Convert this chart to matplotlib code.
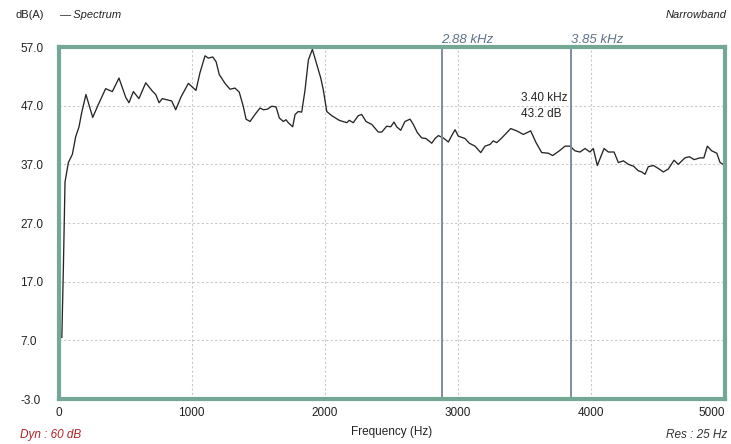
import matplotlib
matplotlib.use("Agg")
import matplotlib.pyplot as plt

plt.rcParams['font.family'] = ['Liberation Sans', 'DejaVu Sans']

# ---- data ----
freq_hz = [25, 36, 49, 74, 104, 129, 154, 174, 206, 257, 299, 354, 404, 454, 505, 529,
           562, 604, 655, 704, 730, 755, 779, 850, 880, 920, 975, 1032, 1062, 1100,
           1125, 1158, 1183, 1207, 1250, 1288, 1325, 1357, 1387, 1408, 1438, 1475,
           1513, 1538, 1568, 1601, 1633, 1658, 1688, 1708, 1725, 1758, 1776, 1800,
           1826, 1851, 1876, 1906, 1939, 1969, 1988, 2014, 2051, 2108, 2164, 2183,
           2213, 2251, 2276, 2309, 2352, 2401, 2427, 2464, 2494, 2519, 2539, 2569,
           2601, 2639, 2664, 2694, 2727, 2759, 2802, 2827, 2852, 2889, 2927, 2952,
           2977, 3002, 3052, 3084, 3127, 3170, 3202, 3240, 3264, 3290, 3328, 3395,
           3440, 3490, 3545, 3585, 3628, 3677, 3710, 3760, 3803, 3840, 3878, 3915,
           3953, 3990, 4015, 4045, 4096, 4128, 4171, 4203, 4241, 4278, 4316, 4353,
           4379, 4403, 4428, 4466, 4503, 4541, 4578, 4621, 4653, 4703, 4736, 4772,
           4815, 4845, 4871, 4904, 4942, 4967, 4990]
level_db = [7.5, 18.7, 34.0, 37.3, 38.7, 41.7, 43.4, 45.8, 48.9, 45.0, 47.2, 49.9, 49.4,
            51.7, 48.4, 47.5, 49.4, 48.2, 50.9, 49.5, 48.9, 47.5, 48.2, 47.8, 46.3,
            48.5, 50.8, 49.6, 52.6, 55.5, 55.1, 55.3, 54.5, 52.3, 50.8, 49.8, 50.0,
            49.3, 46.9, 44.7, 44.3, 45.5, 46.6, 46.3, 46.4, 46.9, 46.8, 44.9, 44.3,
            44.6, 44.1, 43.4, 45.5, 46.0, 45.9, 49.7, 54.8, 56.6, 54.0, 51.7, 49.7,
            46.0, 45.3, 44.5, 44.1, 44.5, 44.1, 45.3, 45.5, 44.3, 43.8, 42.5, 42.5,
            43.5, 43.4, 44.2, 43.4, 42.8, 44.3, 44.7, 43.8, 42.4, 41.5, 41.4, 40.6,
            41.4, 41.9, 41.5, 40.8, 41.9, 42.9, 41.8, 41.4, 40.6, 40.1, 39.0, 40.1,
            40.4, 41.0, 40.7, 41.5, 43.1, 42.7, 42.1, 42.7, 40.7, 39.0, 38.9, 38.5,
            39.3, 40.1, 40.1, 39.3, 39.1, 39.7, 39.1, 39.7, 36.8, 39.7, 39.1, 39.1,
            37.3, 37.6, 37.0, 36.7, 35.9, 35.7, 35.3, 36.6, 36.8, 36.3, 35.7, 36.2,
            37.7, 37.0, 38.1, 38.3, 37.8, 38.1, 38.1, 40.1, 39.3, 38.9, 37.3, 37.0]
x_ticks = [0, 1000, 2000, 3000, 4000, 5000]
y_ticks = [-3.0, 7.0, 17.0, 27.0, 37.0, 47.0, 57.0]
cursor_khz = [2.88, 3.85]
readout_khz = 3.40
readout_db = 43.2

# ---- figure ----
fig = plt.figure(figsize=(7.31, 4.44), dpi=100)
W, H = 731, 444
ax = fig.add_axes([58.5 / W, 1 - 399 / H, (724.5 - 58.5) / W, (399 - 47) / H])
ax.set_xlim(0, 5000)
ax.set_ylim(-3, 57)

frame_col = '#74a794'
for s in ax.spines.values():
    s.set_color(frame_col)
    s.set_linewidth(3.0)
    s.set_zorder(5)

ax.set_xticks(x_ticks)
ax.set_yticks(y_ticks)
ax.set_xticklabels([str(v) for v in x_ticks], fontsize=8.5, color='#222222')
ax.set_yticklabels([f"{v:.1f}" for v in y_ticks], fontsize=8.5, color='#222222')
ax.tick_params(axis='both', length=0)
ax.tick_params(axis='x', pad=6)
ax.tick_params(axis='y', pad=27.5)
for lab in ax.get_yticklabels():
    lab.set_ha('left')
ax.get_xticklabels()[-1].set_ha('right')

ax.grid(True, color='#c9c9c9', linestyle=(0, (2, 2)), linewidth=0.8)
ax.set_axisbelow(True)

ax.plot(freq_hz, level_db, color='#262626', linewidth=0.95, zorder=3)

cur_col = '#7d8d9c'
for c in cursor_khz:
    ax.axvline(c * 1000, color=cur_col, linewidth=1.4, zorder=4)
    ax.text(c * 1000 - 5, 1.003, f"{c:.2f} kHz", transform=ax.get_xaxis_transform(),
            fontsize=9.5, style='italic', color='#5e7389', ha='left', va='bottom')

ax.text(readout_khz * 1000 + 70, readout_db + 1.3, f"{readout_khz:.2f} kHz\n{readout_db:.1f} dB",
        fontsize=8.5, color='#222222', ha='left', va='bottom', linespacing=1.45)

fig.text(16 / W, 1 - 15 / H, "dB(A)", fontsize=8, color='#222222', va='center', ha='left')
fig.text(59 / W, 1 - 15 / H, "— Spectrum", fontsize=8, style='italic', color='#222222',
         va='center', ha='left')
fig.text(727 / W, 1 - 15 / H, "Narrowband", fontsize=8, style='italic', color='#222222',
         va='center', ha='right')
fig.text(392 / W, 1 - 432 / H, "Frequency (Hz)", fontsize=8.5, color='#222222',
         va='center', ha='center')
fig.text(20 / W, 1 - 435 / H, "Dyn : 60 dB", fontsize=8.5, style='italic', color='#b22222',
         va='center', ha='left')
fig.text(727 / W, 1 - 435 / H, "Res : 25 Hz", fontsize=8.5, style='italic', color='#333333',
         va='center', ha='right')

fig.savefig("out.png", dpi=100)
